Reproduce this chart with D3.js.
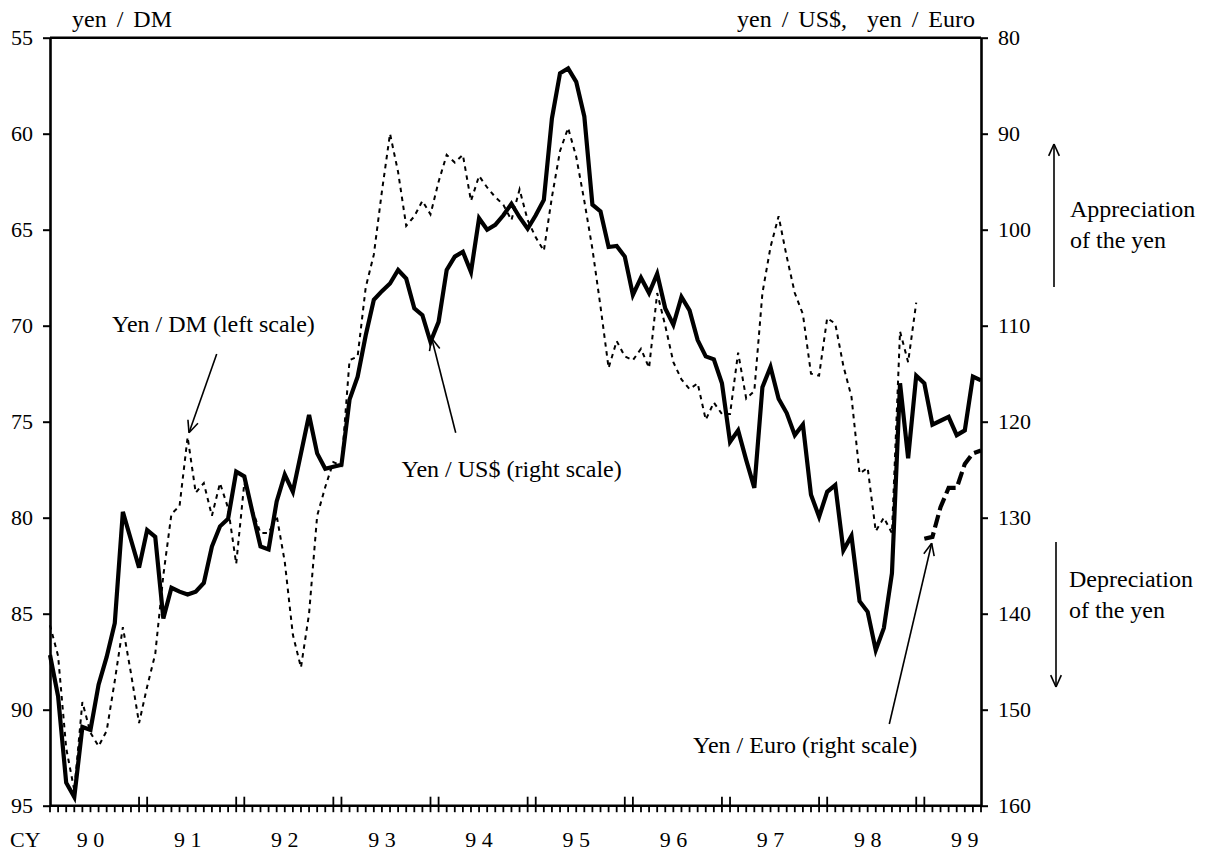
<!DOCTYPE html>
<html>
<head>
<meta charset="utf-8">
<script src="https://cdn.jsdelivr.net/npm/d3@7"></script>
<style>
  html, body { margin: 0; padding: 0; background: #fff; }
  svg { display: block; }
  text { font-family: "Liberation Serif", "Times New Roman", serif; fill: #000; }
</style>
</head>
<body>
<svg id="chart" width="1213" height="855"></svg>
<script>
// ---- data -------------------------------------------------------------
// Year labels along the bottom axis (CY 1990 .. 1999)
const yearLabels = ["9 0", "9 1", "9 2", "9 3", "9 4", "9 5", "9 6", "9 7", "9 8", "9 9"];
// Monthly observations: Jan 1990 .. Aug 1999
const monthCount = 116;
const months = d3.range(monthCount).map(i => `${1990 + Math.floor(i / 12)}-${String(i % 12 + 1).padStart(2, "0")}`);

// Yen / US$ (right scale), month-end
const yenUSD = [
  144.3, 148.6, 157.6, 159.1, 151.8, 152.1, 147.4, 144.5, 141.0, 129.4, 132.3, 135.2,
  131.3, 132.0, 140.5, 137.3, 137.7, 138.0, 137.7, 136.8, 133.0, 130.9, 130.1, 125.2,
  125.7, 129.4, 133.0, 133.3, 128.3, 125.5, 127.3, 123.3, 119.3, 123.3, 124.9, 124.7,
  124.5, 117.7, 115.3, 111.0, 107.3, 106.4, 105.6, 104.2, 105.1, 108.2, 108.9, 111.7,
  109.6, 104.2, 102.8, 102.3, 104.4, 98.8, 100.0, 99.5, 98.5, 97.3, 98.7, 99.9,
  98.5, 96.9, 88.4, 83.7, 83.2, 84.6, 88.2, 97.4, 98.1, 101.8, 101.7, 102.8,
  106.8, 105.0, 106.6, 104.6, 108.2, 109.9, 107.0, 108.4, 111.5, 113.2, 113.5, 116.0,
  122.1, 120.9, 124.0, 126.9, 116.4, 114.3, 117.6, 119.1, 121.4, 120.3, 127.6, 129.9,
  127.3, 126.6, 133.4, 131.9, 138.7, 139.8, 143.8, 141.5, 135.8, 116.0, 123.8, 115.2,
  116.0, 120.3, 119.9, 119.5, 121.4, 120.9, 115.3, 115.7
];

// Yen / DM (left scale), Jan 1990 .. Dec 1998
const yenDM = [
  85.6, 87.2, 92.0, 94.2, 89.6, 91.2, 91.9, 91.1, 88.5, 85.7, 88.1, 90.7,
  88.8, 87.1, 83.0, 79.8, 79.4, 75.8, 78.7, 78.2, 79.9, 78.2, 79.5, 82.4,
  78.2, 79.6, 80.8, 80.8, 79.9, 82.3, 86.1, 87.8, 85.0, 79.9, 78.4, 77.1,
  77.3, 71.8, 71.6, 68.0, 66.3, 63.0, 60.0, 62.0, 64.8, 64.3, 63.5, 64.2,
  62.5, 61.1, 61.5, 61.1, 63.5, 62.2, 62.8, 63.3, 63.7, 64.5, 62.9, 64.5,
  65.4, 66.1, 63.3, 60.9, 59.7, 61.2, 63.5, 66.0, 69.0, 72.2, 70.8, 71.6,
  71.8, 71.2, 72.2, 68.3, 70.0, 71.9, 72.8, 73.3, 73.0, 74.9, 74.0, 74.6,
  74.6, 71.4, 73.8, 73.4, 68.3, 65.9, 64.3, 66.4, 68.3, 69.4, 72.5, 72.6,
  69.6, 69.9, 72.1, 73.7, 77.7, 77.4, 80.7, 80.0, 80.8, 70.3, 71.9, 68.8
];

// Yen / Euro (right scale), Jan 1999 .. Aug 1999
const euroStart = 108;
const yenEuro = [132.2, 132.0, 128.9, 126.9, 126.9, 124.4, 123.3, 123.0];

const leftTicks = [55, 60, 65, 70, 75, 80, 85, 90, 95];
const rightTicks = [80, 90, 100, 110, 120, 130, 140, 150, 160];

// ---- layout -----------------------------------------------------------
const plot = { left: 50, right: 981, top: 37.7, bottom: 805.7 };
const svg = d3.select("#chart");

const x = d3.scalePoint().domain(months).range([plot.left, plot.right]);
const yLeft = d3.scaleLinear().domain([55, 95]).range([plot.top, plot.bottom]);
const yRight = d3.scaleLinear().domain([80, 160]).range([plot.top, plot.bottom]);

// ---- series -----------------------------------------------------------
const dmLine = d3.line().x((d, i) => x(months[i])).y(d => yLeft(d));
const usdLine = d3.line().x((d, i) => x(months[i])).y(d => yRight(d));
const euroLine = d3.line().x((d, i) => x(months[euroStart + i])).y(d => yRight(d));

svg.append("path").datum(yenDM)
  .attr("d", dmLine).attr("fill", "none").attr("stroke", "#000")
  .attr("stroke-width", 2).attr("stroke-dasharray", "4.5,4.5");

svg.append("path").datum(yenUSD)
  .attr("d", usdLine).attr("fill", "none").attr("stroke", "#000")
  .attr("stroke-width", 4.2).attr("stroke-linejoin", "miter");

svg.append("path").datum(yenEuro)
  .attr("d", euroLine).attr("fill", "none").attr("stroke", "#000")
  .attr("stroke-width", 4.2).attr("stroke-dasharray", "13,5");

// ---- frame & axes -----------------------------------------------------
svg.append("line")
  .attr("x1", plot.left).attr("x2", plot.right)
  .attr("y1", plot.top).attr("y2", plot.top)
  .attr("stroke", "#000").attr("stroke-width", 2.6);

function styleAxis(g) {
  g.select(".domain").attr("stroke-width", 2.6);
  g.selectAll(".tick line").attr("stroke-width", 2);
  g.selectAll(".tick text").attr("font-size", 22)
    .attr("font-family", "Liberation Serif, Times New Roman, serif");
}

svg.append("g")
  .attr("transform", `translate(${plot.left},0)`)
  .call(d3.axisLeft(yLeft).tickValues(leftTicks).tickSize(7).tickSizeOuter(0).tickPadding(10))
  .call(styleAxis);

svg.append("g")
  .attr("transform", `translate(${plot.right},0)`)
  .call(d3.axisRight(yRight).tickValues(rightTicks).tickSize(7).tickSizeOuter(0).tickPadding(10))
  .call(styleAxis);

// bottom axis: monthly ticks, long double ticks at each year boundary
const xAxis = svg.append("g");
xAxis.append("line")
  .attr("x1", plot.left).attr("x2", plot.right)
  .attr("y1", plot.bottom).attr("y2", plot.bottom)
  .attr("stroke", "#000").attr("stroke-width", 2.6);

xAxis.selectAll("line.mtick").data(months).join("line")
  .attr("class", "mtick")
  .attr("x1", d => x(d)).attr("x2", d => x(d))
  .attr("y1", (d, i) => (i > 0 && (i % 12 === 0 || i % 12 === 11)) ? plot.bottom - 9 : plot.bottom)
  .attr("y2", plot.bottom + 6.5)
  .attr("stroke", "#000").attr("stroke-width", 1.8);

const step = x.step();
xAxis.selectAll("text.year").data(yearLabels).join("text")
  .attr("class", "year")
  .attr("x", (d, i) => x(months[i * 12]) + 5.5 * step - 4)
  .attr("y", 846.5)
  .attr("text-anchor", "middle")
  .attr("font-size", 22)
  .text(d => d);

svg.append("text").attr("x", 10).attr("y", 846.5).attr("font-size", 22).text("CY");

// ---- axis titles ------------------------------------------------------
svg.append("text").attr("x", 72).attr("y", 27).attr("font-size", 24)
  .attr("word-spacing", 4).text("yen / DM");
svg.append("text").attr("x", 975).attr("y", 27).attr("font-size", 24)
  .attr("text-anchor", "end").attr("word-spacing", 4).attr("xml:space", "preserve")
  .text("yen / US$,  yen / Euro");

// ---- annotations ------------------------------------------------------
function arrow(x1, y1, x2, y2, head = 13, spread = 0.42) {
  const g = svg.append("g").attr("stroke", "#000").attr("stroke-width", 1.6).attr("fill", "none");
  g.append("line").attr("x1", x1).attr("y1", y1).attr("x2", x2).attr("y2", y2);
  const a = Math.atan2(y1 - y2, x1 - x2);
  [a - spread, a + spread].forEach(t => {
    g.append("line").attr("x1", x2).attr("y1", y2)
      .attr("x2", x2 + head * Math.cos(t)).attr("y2", y2 + head * Math.sin(t));
  });
}

const note = (tx, ty, str) =>
  svg.append("text").attr("x", tx).attr("y", ty).attr("font-size", 24).text(str);

note(112, 331.5, "Yen / DM (left scale)");
arrow(216.7, 354, 189, 432.7);

note(401.5, 476.5, "Yen / US$ (right scale)");
arrow(455.7, 432.7, 431.7, 338.3);

note(693, 752.5, "Yen / Euro (right scale)");
arrow(889.3, 724, 931.7, 543.3);

note(1070, 216.5, "Appreciation");
note(1070, 248, "of the yen");
arrow(1054, 287, 1054, 144);

note(1069, 586.5, "Depreciation");
note(1069, 618, "of the yen");
arrow(1056, 542, 1056, 687);
</script>
</body>
</html>
